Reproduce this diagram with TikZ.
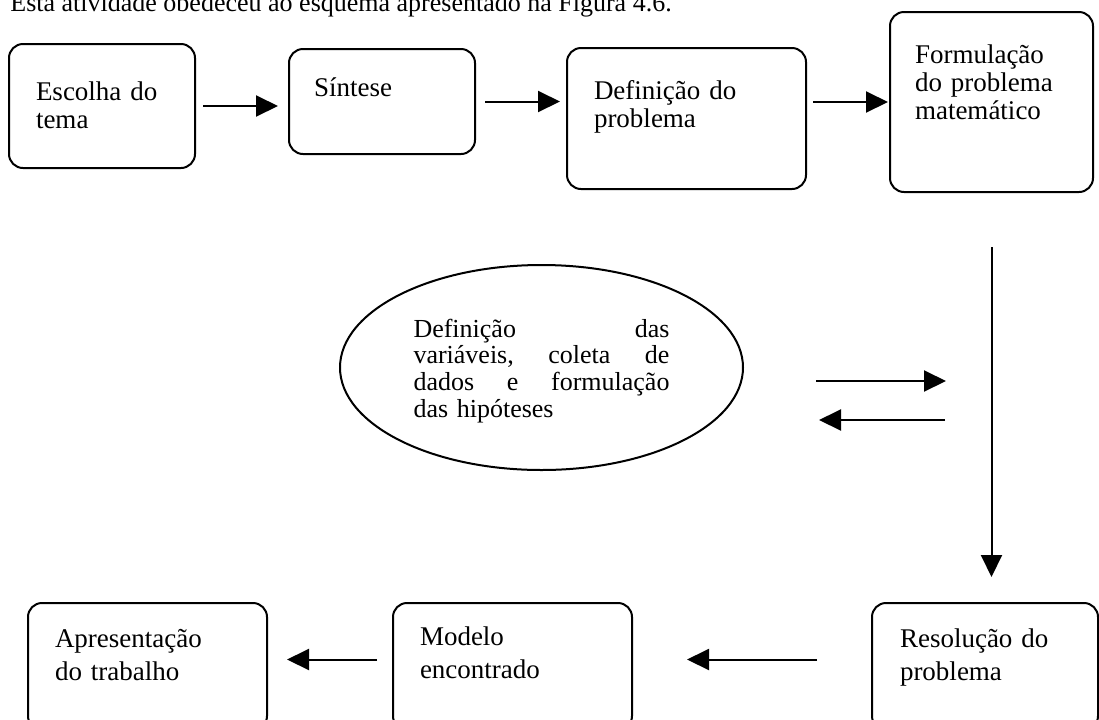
\documentclass[tikz,border=0pt]{standalone}
\usepackage{fontspec}
\setmainfont{Liberation Serif}
\usetikzlibrary{arrows.meta,shapes.geometric}

\tikzset{
  stage/.style={draw, line width=1pt, rounded corners=7pt, anchor=north west,
    inner ysep=0pt, outer sep=0pt, align=left},
  toprow/.style={font=\fontsize{13.5}{14}\selectfont},
  lowrow/.style={font=\fontsize{13.5}{16.5}\selectfont},
  flow/.style={line width=1pt, -{Triangle[length=11pt,width=10.5pt]}}
}
\newcommand{\fullline}[1]{\makebox[128pt][l]{#1}}

\begin{document}
\begin{tikzpicture}[x=0.5pt,y=-0.5pt]
    \path[use as bounding box, clip] (0,0) rectangle (1099,719);

    \node[anchor=base west, inner sep=0pt, font=\fontsize{13}{15}\selectfont] (caption) at (10,11.5)
      {Esta atividade obedeceu ao esquema apresentado na Figura 4.6.};

    \node[stage, toprow, text width=66pt, inner xsep=13.5pt, text height=28pt, text depth=34pt] (escolha) at (9,44) {Escolha do\\tema};
    \node[stage, toprow, text width=68pt, inner xsep=12.5pt, text height=23.5pt, text depth=29pt] (sintese) at (289,49) {Síntese};
    \node[stage, toprow, text width=92.5pt, inner xsep=13.5pt, text height=25.5pt, text depth=45pt] (defprob) at (567,48) {Definição do\\problema};
    \node[stage, toprow, text width=76.5pt, inner xsep=12.5pt, text height=25.5pt, text depth=64.5pt] (formula) at (890,12) {Formulação\\do problema\\matemático};

    \node[ellipse, draw, line width=1pt, minimum width=201.5pt, minimum height=102.5pt, text width=128pt, align=left,
      text height=12pt, text depth=42.5pt, font=\fontsize{13}{13.35}\selectfont] (hipot) at (541.5,367.5)
      {\fullline{Definição\hfill das}\\\fullline{variáveis,\hfill coleta\hfill de}\\\fullline{dados\hfill e\hfill formulação}\\das hipóteses};

    \node[stage, lowrow, text width=92.5pt, inner xsep=13.5pt, text height=22pt, text depth=41.5pt] (apres) at (28,603) {Apresentação\\do trabalho};
    \node[stage, lowrow, text width=92.5pt, inner xsep=13.5pt, text height=21pt, text depth=42.5pt] (modelo) at (393,603) {Modelo\\encontrado};
    \node[stage, lowrow, text width=85pt, inner xsep=14pt, text height=22pt, text depth=41.5pt] (resol) at (872,603) {Resolução do\\problema};

    \draw[flow, shorten <=4pt, shorten >=5.5pt] (escolha.east) -- (escolha.east -| sintese.west);
    \draw[flow, shorten <=5pt, shorten >=3.5pt] (sintese.east) -- (sintese.east -| defprob.west);
    \draw[flow, shorten <=3.5pt, shorten >=1pt] (formula.west -| defprob.east) -- (formula.west);
    \draw[flow, shorten <=27.5pt, shorten >=13pt] (formula.south) -- (formula.south |- resol.north);
    \draw[flow, shorten <=36pt, shorten >=22.75pt] ([yshift=-6.75pt]hipot.east) -- ([yshift=-6.75pt]hipot.east -| formula.south);
    \draw[flow, shorten <=23.25pt, shorten >=37.5pt] ([yshift=-26.25pt]hipot.east -| formula.south) -- ([yshift=-26.25pt]hipot.east);
    \draw[flow, shorten <=27.5pt, shorten >=27.5pt] ([yshift=3.5pt]resol.west) -- ([yshift=3.5pt]resol.west -| modelo.east);
    \draw[flow, shorten <=8pt, shorten >=10pt] ([yshift=3.5pt]modelo.west) -- ([yshift=3.5pt]modelo.west -| apres.east);
\end{tikzpicture}
\end{document}
